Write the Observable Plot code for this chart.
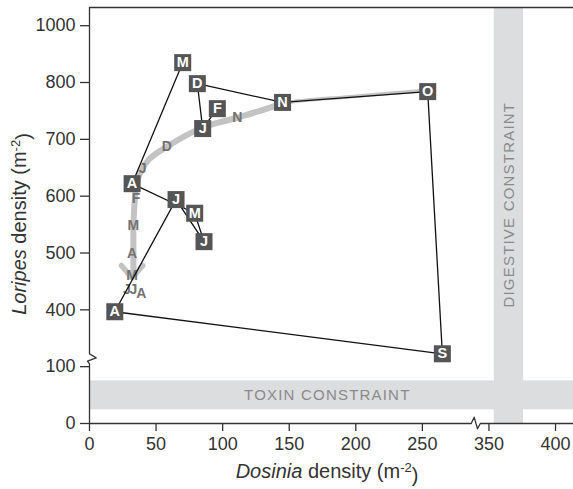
<!DOCTYPE html>
<html><head><meta charset="utf-8">
<script src="https://cdn.jsdelivr.net/npm/d3@7"></script>
<script src="https://cdn.jsdelivr.net/npm/@observablehq/plot@0.6"></script>
<style>
body{margin:0;background:#fff}
#chart svg{display:block}
.band-label text{letter-spacing:1.2px}
</style>
</head><body><div id="chart"></div>
<script>
// Observed monthly densities (March -> February), connected by the black line
const months  = ["M","A","M","J","J","A","S","O","N","D","J","F"];
const dosinia = [70, 32, 79, 86, 65, 19, 265, 254, 145, 81, 85, 96];
const loripes = [835, 622, 570, 520, 594, 390, 168, 784, 765, 798, 719, 754];

// Model trajectory (grey curve), from October downwards
const modelDosinia = [252, 196, 145, 111, 85, 58, 44, 36, 34, 33, 33, 33];
const modelLoripes = [786, 775, 763, 738, 721, 687, 663, 628, 592, 545, 499, 460];
const modelMonths      = ["N","D","J","F","M","A","M","J","J","A"];
const modelMonthDosinia = [111, 58, 40, 35, 33, 32, 32, 28, 33, 39];
const modelMonthLoripes = [738, 687, 649, 596, 548, 499, 461, 435, 435, 428];
const arrowDosinia = [24, 32, 40];
const arrowLoripes = [478, 456, 478];

// Constraints
const toxinBand = [24, 75];        // Loripes density range
const digestiveBand = [354, 376];  // Dosinia density range
const bandLabels = ["TOXIN CONSTRAINT", "DIGESTIVE CONSTRAINT"];

// Axis ticks
const xTickValues = [0, 50, 100, 150, 200, 250, 350, 400];
const xTickLabels = ["0", "50", "100", "150", "200", "250", "350", "400"];
const yTickValues = [0, 100, 400, 500, 600, 700, 800, 900];
const yTickLabels = ["0", "100", "400", "500", "600", "700", "800", "1000"];

// Broken axes
const fx = v => v <= 300 ? v : v - 50;
const fy = v => v <= 100 ? v : v >= 400 ? v - 200 : 100 + (v - 100) / 3;
const X_MAX = 363.5, Y_MAX = 732;

const obs = months.map((m, i) => ({m, x: fx(dosinia[i]), y: fy(loripes[i])}));
const model = modelDosinia.map((d, i) => ({x: fx(d), y: fy(modelLoripes[i])}));
const modelLab = modelMonths.map((m, i) => ({m, x: fx(modelMonthDosinia[i]), y: fy(modelMonthLoripes[i])}));
const arrow = arrowDosinia.map((d, i) => ({x: fx(d), y: fy(arrowLoripes[i])}));

const xLab = new Map(xTickValues.map((v, i) => [fx(v), xTickLabels[i]]));
const yLab = new Map(yTickValues.map((v, i) => [fy(v), yTickLabels[i]]));

const leftAxis = [[0,0],[0,105],[-1.5,109.6],[5,115.6],[0,122.6],[0,Y_MAX]].map(([x,y])=>({x,y}));
const bottomAxis = [[0,0],[286.7,0],[288.9,11.1],[291.4,-9.3],[293.5,0],[X_MAX,0]].map(([x,y])=>({x,y}));
const topFrame = [{x:0,y:Y_MAX},{x:X_MAX,y:Y_MAX}];

const BAND = "#dcdddf", AX = "#333", GREY = "#c3c3c3";

const plot = Plot.plot({
  width: 573, height: 489,
  marginLeft: 89, marginRight: 0, marginTop: 7, marginBottom: 66,
  style: {fontFamily: "'Liberation Sans', Arial, sans-serif", background: "#fff"},
  x: {domain: [0, X_MAX], axis: null},
  y: {domain: [0, Y_MAX], axis: null},
  marks: [
    Plot.rect([0], {x1: 0, x2: X_MAX, y1: fy(toxinBand[0]), y2: fy(toxinBand[1]), fill: BAND}),
    Plot.rect([0], {x1: fx(digestiveBand[0]), x2: fx(digestiveBand[1]), y1: 0, y2: Y_MAX, fill: BAND}),
    Plot.text([bandLabels[0]], {x: 178.6, y: fy(49.5), text: d => d, fill: "#8a8a8a", fontSize: 15, className: "band-label"}),
    Plot.text([bandLabels[1]], {x: fx((digestiveBand[0]+digestiveBand[1])/2), y: fy(585), text: d => d, rotate: -90, fill: "#8a8a8a", fontSize: 15, className: "band-label"}),
    Plot.line(leftAxis, {x: "x", y: "y", stroke: AX, strokeWidth: 1.3}),
    Plot.line(bottomAxis, {x: "x", y: "y", stroke: AX, strokeWidth: 1.3}),
    Plot.line(topFrame, {x: "x", y: "y", stroke: AX, strokeWidth: 1.3}),
    Plot.axisX(xTickValues.map(fx), {tickFormat: d => xLab.get(d), tickSize: 8, tickPadding: 6, fontSize: 18, color: AX, strokeWidth: 1.3, label: null}),
    Plot.axisY(yTickValues.map(fy), {tickFormat: d => yLab.get(d), tickSize: 9, tickPadding: 5, fontSize: 18, color: AX, strokeWidth: 1.3, label: null}),
    // tapered grey model curve: thin from October, full width from November on
    Plot.line(model, {x: "x", y: "y", curve: "catmull-rom", stroke: GREY, strokeWidth: 3.5}),
    Plot.line(model.slice(2), {x: "x", y: "y", curve: "catmull-rom", stroke: GREY, strokeWidth: 6}),
    Plot.line(arrow, {x: "x", y: "y", stroke: GREY, strokeWidth: 5.5, strokeLinejoin: "miter"}),
    Plot.text(modelLab, {x: "x", y: "y", text: "m", fill: "#727272", fontWeight: "bold", fontSize: 14}),
    Plot.line(obs, {x: "x", y: "y", stroke: "#111", strokeWidth: 1.3}),
    Plot.dot(obs, {x: "x", y: "y", symbol: "square", r: 9.6, fill: "#555", stroke: null}),
    Plot.text(obs, {x: "x", y: "y", text: "m", fill: "white", fontWeight: "bold", fontSize: 14.5})
  ]
});

const svg = d3.select(plot);
const xt = svg.append("text").attr("x", 327).attr("y", 478).attr("text-anchor", "middle")
  .attr("fill", AX).style("font-size", "20px");
xt.append("tspan").style("font-style", "italic").text("Dosinia");
xt.append("tspan").text(" density (m");
xt.append("tspan").attr("dy", "-0.5em").style("font-size", "13px").text("-2");
xt.append("tspan").attr("dy", "0.5em").text(")");

const yt = svg.append("text").attr("transform", "translate(26,224) rotate(-90)").attr("text-anchor", "middle")
  .attr("fill", AX).style("font-size", "20px");
yt.append("tspan").style("font-style", "italic").text("Loripes");
yt.append("tspan").text(" density (m");
yt.append("tspan").attr("dy", "-0.5em").style("font-size", "13px").text("-2");
yt.append("tspan").attr("dy", "0.5em").text(")");

document.getElementById("chart").appendChild(plot);
</script>
</body></html>
